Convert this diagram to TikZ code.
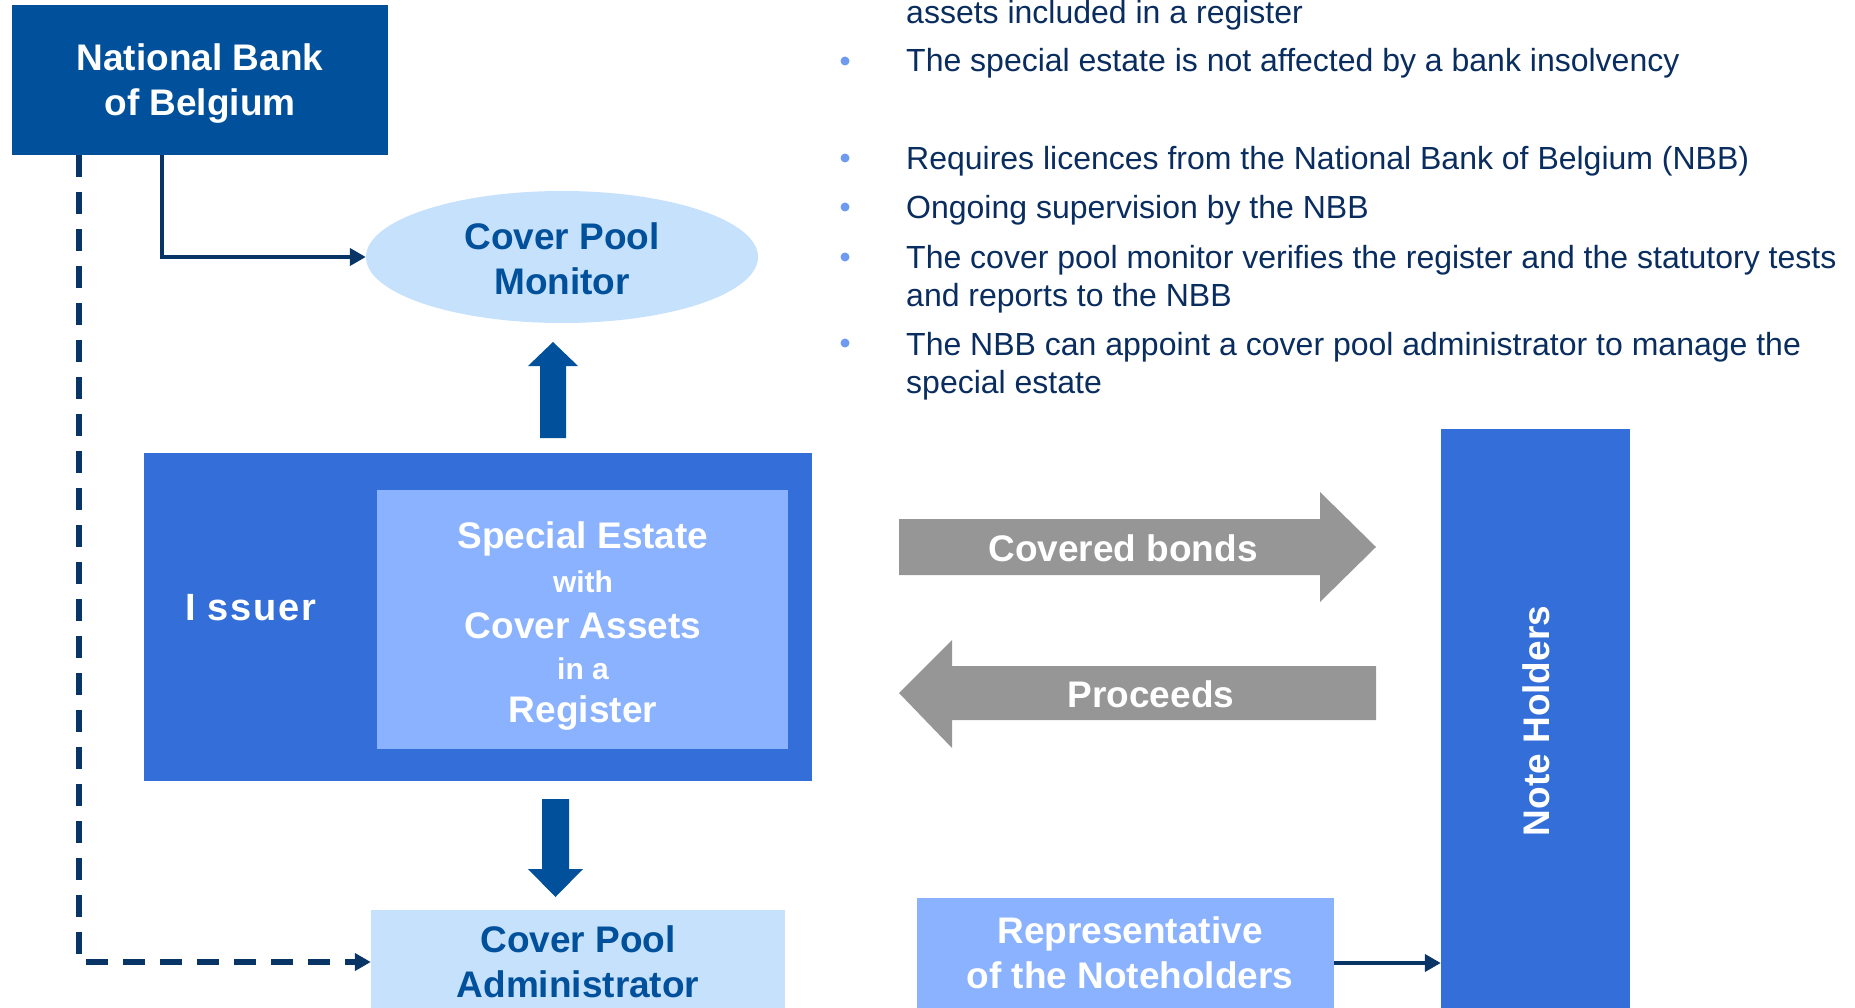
\documentclass[tikz,border=0pt]{standalone}
\usepackage{fontspec}
\setmainfont{Liberation Sans}
\usetikzlibrary{arrows.meta,calc,shapes.geometric}

\definecolor{nbbblue}{RGB}{0,80,155}
\definecolor{issuerblue}{RGB}{51,110,217}
\definecolor{estateblue}{RGB}{138,178,255}
\definecolor{paleblue}{RGB}{198,225,251}
\definecolor{arrowgray}{RGB}{150,150,150}
\definecolor{linenavy}{RGB}{8,52,102}
\definecolor{textnavy}{RGB}{10,45,95}
\definecolor{bulletblue}{RGB}{110,155,240}

\newcommand{\boxfont}{\bfseries\fontsize{37}{45}\selectfont}
\newcommand{\smallboxfont}{\fontsize{30}{45}\selectfont}

\tikzset{
  bankbox/.style={fill=nbbblue, text=white, align=center, inner sep=0pt, font=\boxfont},
  palebox/.style={fill=paleblue, text=nbbblue, align=center, inner sep=0pt, font=\boxfont},
  issuerbox/.style={fill=issuerblue, text=white, align=center, inner sep=0pt, font=\boxfont},
  estatebox/.style={fill=estateblue, text=white, align=center, inner sep=0pt, font=\boxfont},
  boxlabel/.style={text=white, align=center, inner sep=0pt, font=\boxfont},
  blockarrow/.style={fill=nbbblue},
  grayarrow/.style={fill=arrowgray},
  arrowlabel/.style={text=white, inner sep=0pt, font=\boxfont},
  navyline/.style={draw=linenavy, line width=4.5pt, -{Triangle[length=16pt,width=17pt]}},
  dashline/.style={draw=linenavy, line width=5.5pt, dash pattern=on 22pt off 15pt, -{Triangle[length=16pt,width=17pt]}},
  bulletdot/.style={circle, fill=bulletblue, inner sep=0pt, minimum size=9pt},
  bullettext/.style={anchor=base west, inner sep=0pt, text=textnavy, font=\fontsize{32}{38}\selectfont},
}

\begin{document}
\begin{tikzpicture}[x=1pt,y=1pt,yscale=-1]
\clip (0,0) rectangle (1855,1008);

%Shape: Rectangle [National Bank]
\node[bankbox, minimum width=376pt, minimum height=150pt] (nbb) at (200,80) {};
\node[boxlabel] (nbblabel) at (200,84) {National Bank\\of Belgium};
%Shape: Ellipse [Monitor]
\node[palebox, ellipse, minimum width=392pt, minimum height=132pt] (monitor) at (562,257) {};
\node[boxlabel, text=nbbblue] (monitorlabel) at (562,259) {Cover Pool\\Monitor};

%Shape: Rectangle [Issuer]
\node[issuerbox, minimum width=668pt, minimum height=328pt] (issuer) at (478,617) {};
\node[boxlabel, font=\bfseries\fontsize{38}{45}\selectfont] (issuerlabel) at (251,608) {I\kern11pt s\kern2pt s\kern2pt u\kern2pt e\kern2pt r};
%Shape: Rectangle [Special estate]
\node[estatebox, minimum width=411pt, minimum height=259pt] (estate) at (582.5,619.5) {};
\node[boxlabel] (estatelabel) at (583,626) {Special Estate\\[-1pt]{\smallboxfont with}\\[1pt]Cover Assets\\[-4pt]{\smallboxfont in a}\\[-2pt]Register};

%Shape: Rectangle [Administrator]
\node[palebox, minimum width=414pt, minimum height=104pt] (admin) at (578,962) {Cover Pool\\Administrator};
%Shape: Rectangle [Note holders]
\node[issuerbox, minimum width=189pt, minimum height=584pt] (holders) at (1535.5,721) {};
\node[arrowlabel, rotate=90] (holderslabel) at (1536,721) {Note Holders};
%Shape: Rectangle [Representative]
\node[estatebox, minimum width=417pt, minimum height=114pt] (rep) at (1125.5,955) {};
\node[boxlabel] (replabel) at (1130,953) {Representative\\of the Noteholders};

%Shape: Up Arrow
\fill[blockarrow] (540,438) -- (540,366) -- (528,366) -- (553,342) -- (578,366) -- (566,366) -- (566,438) -- cycle ;
%Shape: Down Arrow
\fill[blockarrow] (542,799) -- (542,869) -- (528,869) -- (555.5,897) -- (583,869) -- (569,869) -- (569,799) -- cycle ;

%Shape: Right Arrow [Covered bonds]
\fill[grayarrow] (899,519) -- (1320,519) -- (1320,492) -- (1376,547) -- (1320,602) -- (1320,575) -- (899,575) -- cycle ;
\node[arrowlabel] (bonds) at (1123,548) {Covered bonds};
%Shape: Left Arrow [Proceeds]
\fill[grayarrow] (1376,666) -- (952,666) -- (952,640) -- (899,693) -- (952,748) -- (952,720) -- (1376,720) -- cycle ;
\node[arrowlabel] (proceeds) at (1151,694) {Proceeds};

%Straight Lines
\draw[navyline] ([xshift=-38pt]nbb.south) |- (monitor.west) ;
\draw[dashline] ([xshift=-121pt]nbb.south) |- (admin.west) ;
\draw[navyline] ($(rep.east)+(0,8)$) -- ($(rep.east -| holders.west)+(0,8)$) ;

%Text: bullets
\node[bullettext] (t0) at (906,24) {assets included in a register};
\node[bulletdot] (d1) at (845,61) {};
\node[bullettext] (t1) at (906,72) {The special estate is not affected by a bank insolvency};
\node[bulletdot] (d2) at (845,158) {};
\node[bullettext] (t2) at (906,170) {Requires licences from the National Bank of Belgium (NBB)};
\node[bulletdot] (d3) at (845,207) {};
\node[bullettext] (t3) at (906,219) {Ongoing supervision by the NBB};
\node[bulletdot] (d4) at (845,257) {};
\node[bullettext] (t4) at (906,269) {The cover pool monitor verifies the register and the statutory tests};
\node[bullettext] (t4b) at (906,306) {and reports to the NBB};
\node[bulletdot] (d5) at (845,343) {};
\node[bullettext] (t5) at (906,355) {The NBB can appoint a cover pool administrator to manage the};
\node[bullettext] (t5b) at (906,393) {special estate};

\end{tikzpicture}
\end{document}
